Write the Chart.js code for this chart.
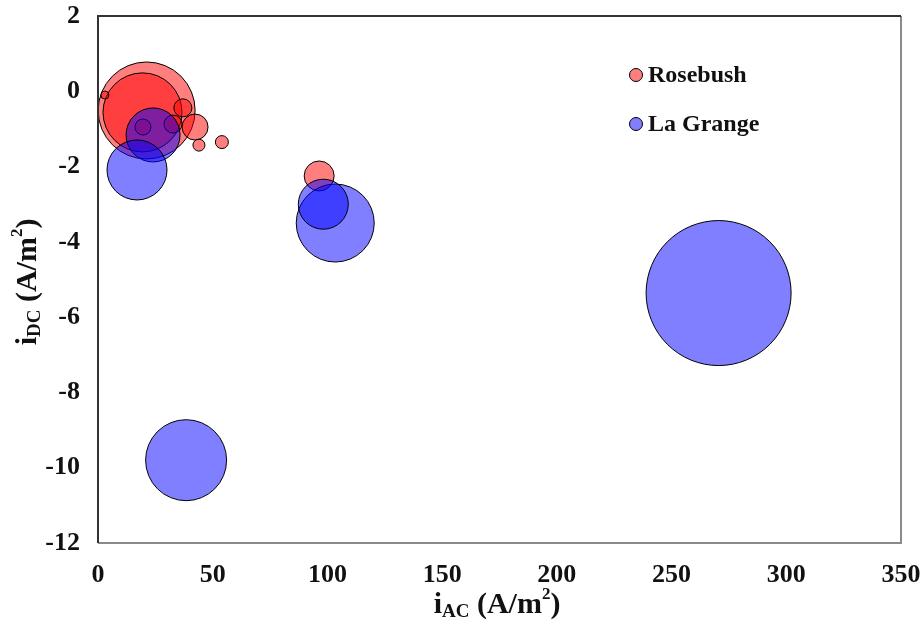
<!DOCTYPE html>
<html>
<head>
<meta charset="utf-8">
<script src="https://cdn.jsdelivr.net/npm/chart.js@4/dist/chart.umd.min.js"></script>
<style>
  html, body { margin: 0; padding: 0; background: #fff; }
  #wrap { width: 922px; height: 633px; }
</style>
</head>
<body>
<div id="wrap"><canvas id="c" width="922" height="633"></canvas></div>
<script>
// Series names
const seriesNames = ['Rosebush', 'La Grange'];

// Rosebush: AC current density, DC current density, bubble radius
const rosebushAC = [21.2, 19.4, 3, 37, 42.3, 44, 54, 96.4, 32.7, 19.6];
const rosebushDC = [-0.51, -0.56, -0.1, -0.44, -0.95, -1.43, -1.35, -2.25, -0.87, -0.95];
const rosebushR  = [48.5, 39.5, 4, 9, 13, 6, 6.5, 15, 9, 8];

// La Grange
const lagrangeAC = [270.5, 38.4, 103.4, 98.2, 24, 17];
const lagrangeDC = [-5.36, -9.8, -3.5, -3.0, -1.16, -2.09];
const lagrangeR  = [72.5, 40.5, 39, 25, 27, 30];

// Axis ranges and tick step
const xRange = [0, 350, 50];
const yRange = [-12, 2, 2];

const FONT = '"Liberation Serif", "Times New Roman", serif';

function toPoints(xs, ys, rs) {
  return xs.map((x, i) => ({ x: x, y: ys[i], r: rs[i] }));
}

// Draws a run of text pieces with sub/superscripts, centred on (0,0)
function drawRich(ctx, parts) {
  let total = 0;
  parts.forEach(p => {
    ctx.font = 'bold ' + p.size + 'px ' + FONT;
    p.w = ctx.measureText(p.t).width;
    total += p.w;
  });
  let x = -total / 2;
  ctx.textBaseline = 'middle';
  ctx.textAlign = 'left';
  parts.forEach(p => {
    ctx.font = 'bold ' + p.size + 'px ' + FONT;
    ctx.fillText(p.t, x, p.dy || 0);
    x += p.w;
  });
}

function titleParts(sub) {
  return [
    { t: 'i', size: 30 },
    { t: sub, size: 19, dy: 7 },
    { t: ' (A/m', size: 30 },
    { t: '2', size: 17, dy: -10 },
    { t: ')', size: 30 }
  ];
}

// scales keep a fixed size and add no edge padding of their own
function fixScale(size) {
  return function (s) {
    if (s.isHorizontal()) s.height = size; else s.width = size;
    s.paddingTop = 0; s.paddingBottom = 0;
    s.paddingLeft = 0; s.paddingRight = 0;
  };
}

const decorations = {
  id: 'decorations',
  afterDraw(chart) {
    const ctx = chart.ctx;
    const a = chart.chartArea;
    ctx.save();
    // frame around plot area
    ctx.lineWidth = 2;
    ctx.strokeStyle = '#8a8a8a';
    ctx.beginPath();
    ctx.moveTo(a.right, a.top);
    ctx.lineTo(a.right, a.bottom);
    ctx.lineTo(a.left, a.bottom);
    ctx.stroke();
    ctx.strokeStyle = '#333';
    ctx.beginPath();
    ctx.moveTo(a.left, a.bottom);
    ctx.lineTo(a.left, a.top);
    ctx.lineTo(a.right, a.top);
    ctx.stroke();

    // legend inside the plot
    const legendX = 636;
    const legendY = [75, 124];
    chart.data.datasets.forEach((ds, i) => {
      ctx.beginPath();
      ctx.arc(legendX, legendY[i], 6.5, 0, Math.PI * 2);
      ctx.fillStyle = ds.backgroundColor;
      ctx.fill();
      ctx.lineWidth = 1;
      ctx.strokeStyle = '#000';
      ctx.stroke();
      ctx.fillStyle = '#111';
      ctx.font = 'bold 24px ' + FONT;
      ctx.textAlign = 'left';
      ctx.textBaseline = 'middle';
      ctx.fillText(ds.label, legendX + 12, legendY[i] + 1);
    });

    // axis titles
    ctx.fillStyle = '#111';
    ctx.save();
    ctx.translate(497, 605);
    drawRich(ctx, titleParts('AC'));
    ctx.restore();
    ctx.save();
    ctx.translate(28, 282);
    ctx.rotate(-Math.PI / 2);
    drawRich(ctx, titleParts('DC'));
    ctx.restore();
    ctx.restore();
  }
};

new Chart(document.getElementById('c'), {
  type: 'bubble',
  data: {
    datasets: [
      {
        label: seriesNames[0],
        data: toPoints(rosebushAC, rosebushDC, rosebushR),
        backgroundColor: 'rgba(255,0,0,0.5)',
        borderColor: '#000',
        borderWidth: 1,
        order: 2,
        clip: false
      },
      {
        label: seriesNames[1],
        data: toPoints(lagrangeAC, lagrangeDC, lagrangeR),
        backgroundColor: 'rgba(0,0,255,0.5)',
        borderColor: '#000',
        borderWidth: 1,
        order: 1,
        clip: false
      }
    ]
  },
  options: {
    responsive: false,
    animation: false,
    layout: { autoPadding: false, padding: { top: 16, right: 21, left: 0, bottom: 0 } },
    plugins: {
      legend: { display: false },
      tooltip: { enabled: false }
    },
    scales: {
      x: {
        type: 'linear',
        min: xRange[0], max: xRange[1],
        grid: { display: false, drawTicks: false },
        border: { display: false },
        ticks: {
          stepSize: xRange[2],
          padding: 17,
          color: '#111',
          maxRotation: 0,
          font: { family: FONT, size: 26, weight: 'bold' }
        },
        afterFit: fixScale(90)
      },
      y: {
        type: 'linear',
        min: yRange[0], max: yRange[1],
        grid: { display: false, drawTicks: false },
        border: { display: false },
        ticks: {
          stepSize: yRange[2],
          padding: 18,
          color: '#111',
          font: { family: FONT, size: 26, weight: 'bold' }
        },
        afterFit: fixScale(98)
      }
    }
  },
  plugins: [decorations]
});
</script>
</body>
</html>
